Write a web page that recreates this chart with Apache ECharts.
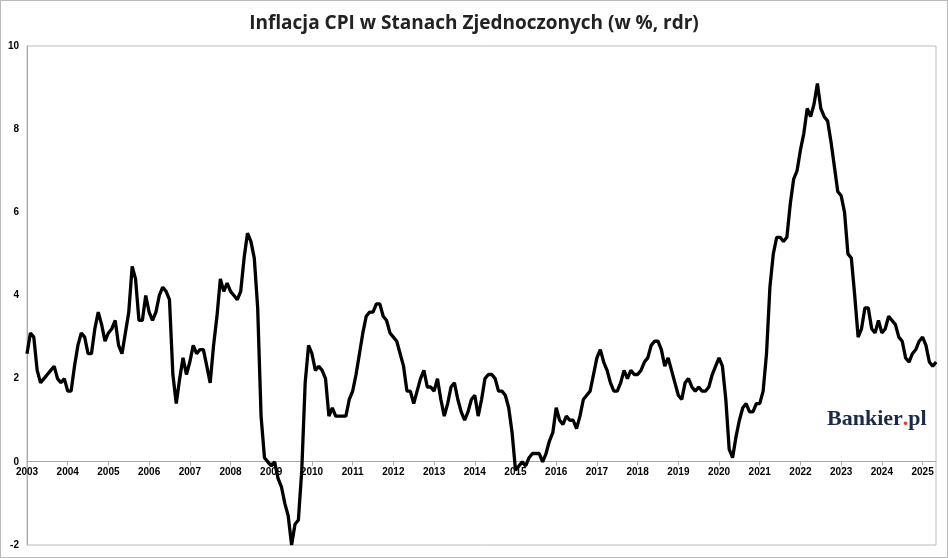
<!DOCTYPE html>
<html><head><meta charset="utf-8">
<script src="https://cdn.jsdelivr.net/npm/echarts@6/dist/echarts.min.js"></script>
<style>html,body{margin:0;padding:0;background:#fff}#c{width:948px;height:558px;box-sizing:border-box;border:1px solid #bbb}</style>
</head><body><div id="c"></div>
<script>
const startYear = 2003;
const cpi = [
2.6,3.1,3.0,2.2,1.9,2.0,2.1,2.2,2.3,2.0,1.9,2.0,
1.7,1.7,2.3,2.8,3.1,3.0,2.6,2.6,3.2,3.6,3.3,2.9,
3.1,3.2,3.4,2.8,2.6,3.1,3.6,4.7,4.4,3.4,3.4,4.0,
3.6,3.4,3.6,4.0,4.2,4.1,3.9,2.1,1.4,2.0,2.5,2.1,
2.4,2.8,2.6,2.7,2.7,2.3,1.9,2.8,3.5,4.4,4.1,4.3,
4.1,4.0,3.9,4.1,4.9,5.5,5.3,4.9,3.7,1.1,0.1,0.0,
-0.1,0.0,-0.4,-0.6,-1.0,-1.3,-2.0,-1.5,-1.4,-0.2,1.9,2.8,
2.6,2.2,2.3,2.2,2.0,1.1,1.3,1.1,1.1,1.1,1.1,1.5,
1.7,2.1,2.6,3.1,3.5,3.6,3.6,3.8,3.8,3.5,3.4,3.1,
3.0,2.9,2.6,2.3,1.7,1.7,1.4,1.7,2.0,2.2,1.8,1.8,
1.7,2.0,1.5,1.1,1.4,1.8,1.9,1.5,1.2,1.0,1.2,1.5,
1.6,1.1,1.5,2.0,2.1,2.1,2.0,1.7,1.7,1.6,1.3,0.7,
-0.2,-0.1,0.0,-0.1,0.1,0.2,0.2,0.2,0.0,0.2,0.5,0.7,
1.3,1.0,0.9,1.1,1.0,1.0,0.8,1.1,1.5,1.6,1.7,2.1,
2.5,2.7,2.4,2.2,1.9,1.7,1.7,1.9,2.2,2.0,2.2,2.1,
2.1,2.2,2.4,2.5,2.8,2.9,2.9,2.7,2.3,2.5,2.2,1.9,
1.6,1.5,1.9,2.0,1.8,1.7,1.8,1.7,1.7,1.8,2.1,2.3,
2.5,2.3,1.5,0.3,0.1,0.6,1.0,1.3,1.4,1.2,1.2,1.4,
1.4,1.7,2.6,4.2,5.0,5.4,5.4,5.3,5.4,6.2,6.8,7.0,
7.5,7.9,8.5,8.3,8.6,9.1,8.5,8.3,8.2,7.7,7.1,6.5,
6.4,6.0,5.0,4.9,4.0,3.0,3.2,3.7,3.7,3.2,3.1,3.4,
3.1,3.2,3.5,3.4,3.3,3.0,2.9,2.5,2.4,2.6,2.7,2.9,
3.0,2.8,2.4,2.3,2.4
];
const yTicks = [-2,0,2,4,6,8,10];
const data = cpi.map((v,i)=>[startYear + i/12, v]);
const chart = echarts.init(document.getElementById('c'));
chart.setOption({
  animation:false,
  title:{text:'Inflacja CPI w Stanach Zjednoczonych (w %, rdr)',left:'center',top:8,
    textStyle:{fontFamily:'Open Sans',fontSize:19,fontWeight:'bold',color:'#222'}},
  graphic:[{type:'text',left:826,top:407,style:{text:'{a|Bankier}{b|.}{a|pl}',
    rich:{a:{fill:'#1a2a48',font:'bold 22px "Liberation Serif"'},b:{fill:'#e0401a',font:'bold 22px "Liberation Serif"'}}}}],
  grid:{left:26,right:11,top:45,bottom:12,show:true,borderColor:'#bbb',borderWidth:1},
  xAxis:{type:'value',min:2003,max:2025.33,interval:1,position:'bottom',offset:-83.5,
    axisLine:{onZero:false,lineStyle:{color:'#aaa'}},
    axisTick:{show:true,length:4,lineStyle:{color:'#aaa'}},
    splitLine:{show:false},
    axisLabel:{showMaxLabel:false,fontSize:10,fontWeight:'bold',color:'#000',fontFamily:'Arial',margin:6,formatter:v=>String(Math.round(v))}},
  yAxis:{type:'value',min:yTicks[0],max:yTicks[yTicks.length-1],interval:2,
    axisLine:{show:true,lineStyle:{color:'#aaa'}},axisTick:{show:false},splitLine:{show:false},
    axisLabel:{fontSize:10,fontWeight:'bold',color:'#000',fontFamily:'Arial',margin:8}},
  series:[{type:'line',data:data,showSymbol:false,z:5,lineStyle:{color:'#000',width:3.3}}]
});
</script></body></html>
